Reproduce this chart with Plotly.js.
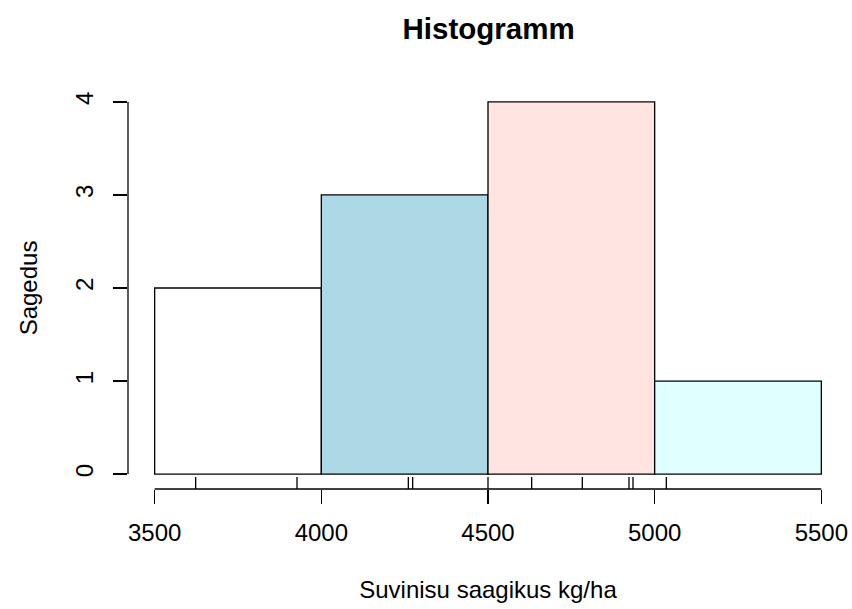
<!DOCTYPE html>
<html>
<head>
<meta charset="utf-8">
<script src="https://cdn.plot.ly/plotly-3.0.1.min.js"></script>
<style>html,body{margin:0;padding:0;background:#fff;}#chart{width:852px;height:609px;}</style>
</head>
<body>
<div id="chart"></div>
<script>
// Observations (rug marks), kg/ha
var yields = [3623, 3927, 4261, 4274, 4500, 4631, 4783, 4923, 4935, 5035];
// Histogram bins
var binStarts = [3500, 4000, 4500, 5000];
var binEnds = [4000, 4500, 5000, 5500];
var counts = [2, 3, 4, 1];
var barColors = ['#FFFFFF', '#ADD8E6', '#FFE4E1', '#E0FFFF'];
var xTicks = [3500, 4000, 4500, 5000, 5500];
var yTicks = [0, 1, 2, 3, 4];

var centers = binStarts.map(function(s, i){ return (s + binEnds[i]) / 2; });
var widths = binStarts.map(function(s, i){ return binEnds[i] - s; });

var LW = 1.3;

var bars = {
  type: 'bar', x: centers, y: counts, width: widths,
  marker: {color: barColors, line: {color: '#000', width: LW}},
  hoverinfo: 'x+y', showlegend: false
};

var shapes = [];
yields.forEach(function(v){
  shapes.push({type: 'line', xref: 'x', yref: 'paper', x0: v, x1: v, y0: 0, y1: 0.03,
               line: {color: '#000', width: LW}});
});
shapes.push({type: 'line', xref: 'x', yref: 'paper', x0: xTicks[0], x1: xTicks[xTicks.length-1], y0: 0, y1: 0,
             line: {color: '#000', width: LW}});
shapes.push({type: 'line', xref: 'paper', yref: 'y', x0: 0, x1: 0, y0: yTicks[0], y1: yTicks[yTicks.length-1],
             line: {color: '#000', width: LW}});

var font = {family: 'Liberation Sans, Arial, sans-serif', size: 24, color: '#000'};

var layout = {
  width: 852, height: 609,
  margin: {l: 128, r: 4, t: 87, b: 120},
  paper_bgcolor: '#fff', plot_bgcolor: '#fff',
  font: font, bargap: 0,
  title: {text: '<b>Histogramm</b>', font: {family: 'Liberation Sans, Arial, sans-serif', size: 29.5, color: '#000'},
          x: 0.5735, xanchor: 'center', y: 0.9532, yanchor: 'middle'},
  xaxis: {
    range: [3420, 5580], tickvals: xTicks, ticktext: xTicks.map(String),
    ticks: 'outside', ticklen: 14, tickwidth: LW, tickcolor: '#000',
    showline: false, showgrid: false, zeroline: false, ticklabelstandoff: 8,
    title: {text: 'Suvinisu saagikus kg/ha', font: font, standoff: 36}
  },
  yaxis: {
    range: [-0.16, 4.16], tickvals: yTicks, ticktext: yTicks.map(String),
    ticks: 'outside', ticklen: 14, tickwidth: LW, tickcolor: '#000', tickangle: -90,
    showline: false, showgrid: false, zeroline: false, ticklabelstandoff: 10,
    title: {text: 'Sagedus', font: font, standoff: 27}
  },
  shapes: shapes
};

Plotly.newPlot('chart', [bars], layout, {displayModeBar: false, staticPlot: true});
</script>
</body>
</html>
